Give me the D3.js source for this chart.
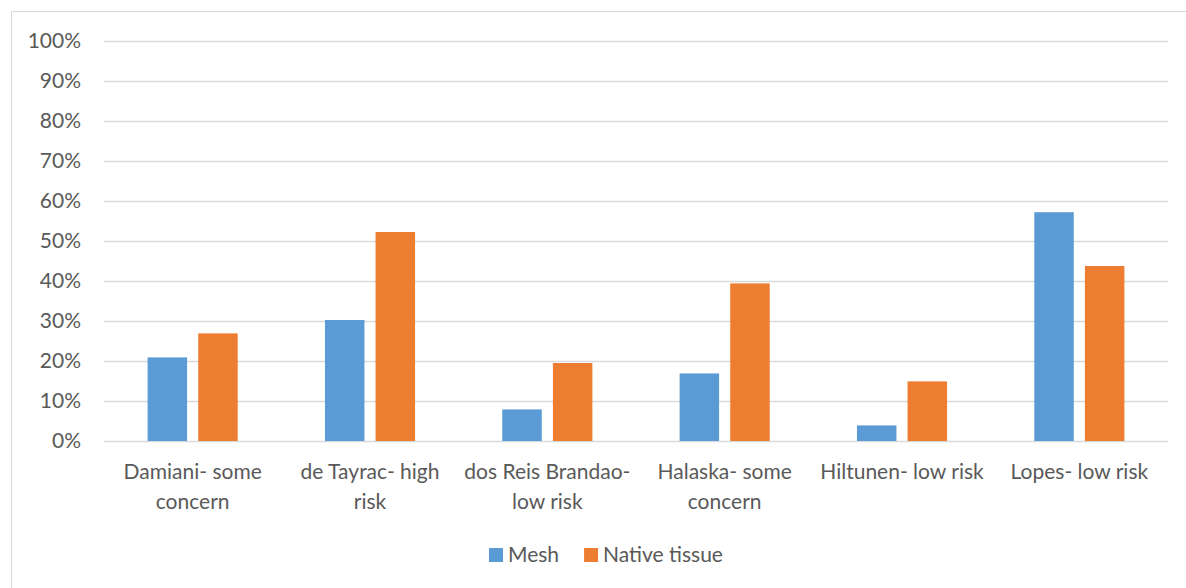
<!DOCTYPE html>
<html>
<head>
<meta charset="utf-8">
<script src="https://cdn.jsdelivr.net/npm/d3@7"></script>
<style>
  body { margin: 0; background: #fff; }
  svg text { font-family: Lato, "Open Sans", sans-serif; fill: #595959; }
</style>
</head>
<body>
<div id="chart"></div>
<script>
// Chart data
const categories = [
    "Damiani- some concern",
    "de Tayrac- high risk",
    "dos Reis Brandao- low risk",
    "Halaska- some concern",
    "Hiltunen- low risk",
    "Lopes- low risk"
];
const seriesNames = ["Mesh", "Native tissue"];
const meshValues = [20.9, 30.25, 7.9, 16.9, 3.9, 57.2];
const nativeValues = [26.9, 52.25, 19.5, 39.4, 14.9, 43.75];
const yTicks = [0, 10, 20, 30, 40, 50, 60, 70, 80, 90, 100];
const colors = ["#5B9BD5", "#ED7D31"];

const W = 1186, H = 588;
const fontSize = 21;
const margin = { top: 41, right: 18, bottom: 147, left: 104 },
    width = W - margin.left - margin.right,
    height = H - margin.top - margin.bottom;

const svg = d3.select("#chart").append("svg")
    .attr("width", W)
    .attr("height", H);

// chart area border (left and top only visible)
svg.append("path")
    .attr("d", `M11.5,${H} L11.5,11.5 L${W},11.5`)
    .attr("fill", "none")
    .attr("stroke", "#D9D9D9")
    .attr("stroke-width", 1);

const g = svg.append("g")
    .attr("transform", `translate(${margin.left},${margin.top})`);

const x0 = d3.scaleBand()
    .domain(categories)
    .range([0, width])
    .paddingInner(0)
    .paddingOuter(0);

const x1 = d3.scaleBand()
    .domain(seriesNames)
    .range([x0.bandwidth() * 0.246, x0.bandwidth() * 0.754])
    .paddingInner(0.22);

const y = d3.scaleLinear()
    .domain([0, 100])
    .range([height, 0]);

// gridlines
g.append("g")
    .selectAll("line")
    .data(yTicks)
    .join("line")
    .attr("x1", 0)
    .attr("x2", width)
    .attr("y1", d => Math.round(y(d)) + 0.5)
    .attr("y2", d => Math.round(y(d)) + 0.5)
    .attr("stroke", "#D9D9D9")
    .attr("stroke-width", 1.3);

// y axis labels
const yAxis = g.append("g")
    .call(d3.axisLeft(y).tickValues(yTicks).tickFormat(d => d + "%").tickSize(0).tickPadding(23));
yAxis.select(".domain").remove();
yAxis.selectAll("text")
    .attr("font-size", fontSize + "px")
    .style("font-family", "Lato, 'Open Sans', sans-serif")
    .attr("fill", "#595959");

// bars
const data = categories.map((c, i) => ({ cat: c, values: [meshValues[i], nativeValues[i]] }));

const groups = g.append("g")
    .selectAll("g")
    .data(data)
    .join("g")
    .attr("transform", d => `translate(${x0(d.cat)},0)`);

groups.selectAll("rect")
    .data(d => d.values.map((v, j) => ({ name: seriesNames[j], value: v, j })))
    .join("rect")
    .attr("x", d => x1(d.name))
    .attr("width", x1.bandwidth())
    .attr("y", d => y(d.value))
    .attr("height", d => y(0) - y(d.value))
    .attr("fill", d => colors[d.j]);

// category labels with word wrap (Excel wraps a bit inside the band)
const wrapWidth = 170;
const labelG = g.append("g")
    .attr("transform", `translate(0,${height})`);

categories.forEach(cat => {
    const cx = x0(cat) + x0.bandwidth() / 2;
    const t = labelG.append("text")
        .attr("x", cx)
        .attr("y", 38)
        .attr("text-anchor", "middle")
        .attr("font-size", fontSize + "px");
    const words = cat.split(" ");
    let line = [];
    let tspan = t.append("tspan").attr("x", cx).attr("dy", 0);
    words.forEach(w => {
        line.push(w);
        tspan.text(line.join(" "));
        if (tspan.node().getComputedTextLength() > wrapWidth && line.length > 1) {
            line.pop();
            tspan.text(line.join(" "));
            line = [w];
            tspan = t.append("tspan")
                .attr("x", cx)
                .attr("dy", 30)
                .text(w);
        }
    });
});

// legend
const legend = svg.append("g").attr("class", "legend");
let lx = 489;
seriesNames.forEach((name, i) => {
    legend.append("rect")
        .attr("x", lx)
        .attr("y", 548)
        .attr("width", 14)
        .attr("height", 14)
        .attr("fill", colors[i]);
    const txt = legend.append("text")
        .attr("x", lx + 19)
        .attr("y", 562)
        .attr("font-size", fontSize + "px")
        .text(name);
    lx += 19 + txt.node().getComputedTextLength() + 25;
});
</script>
</body>
</html>
